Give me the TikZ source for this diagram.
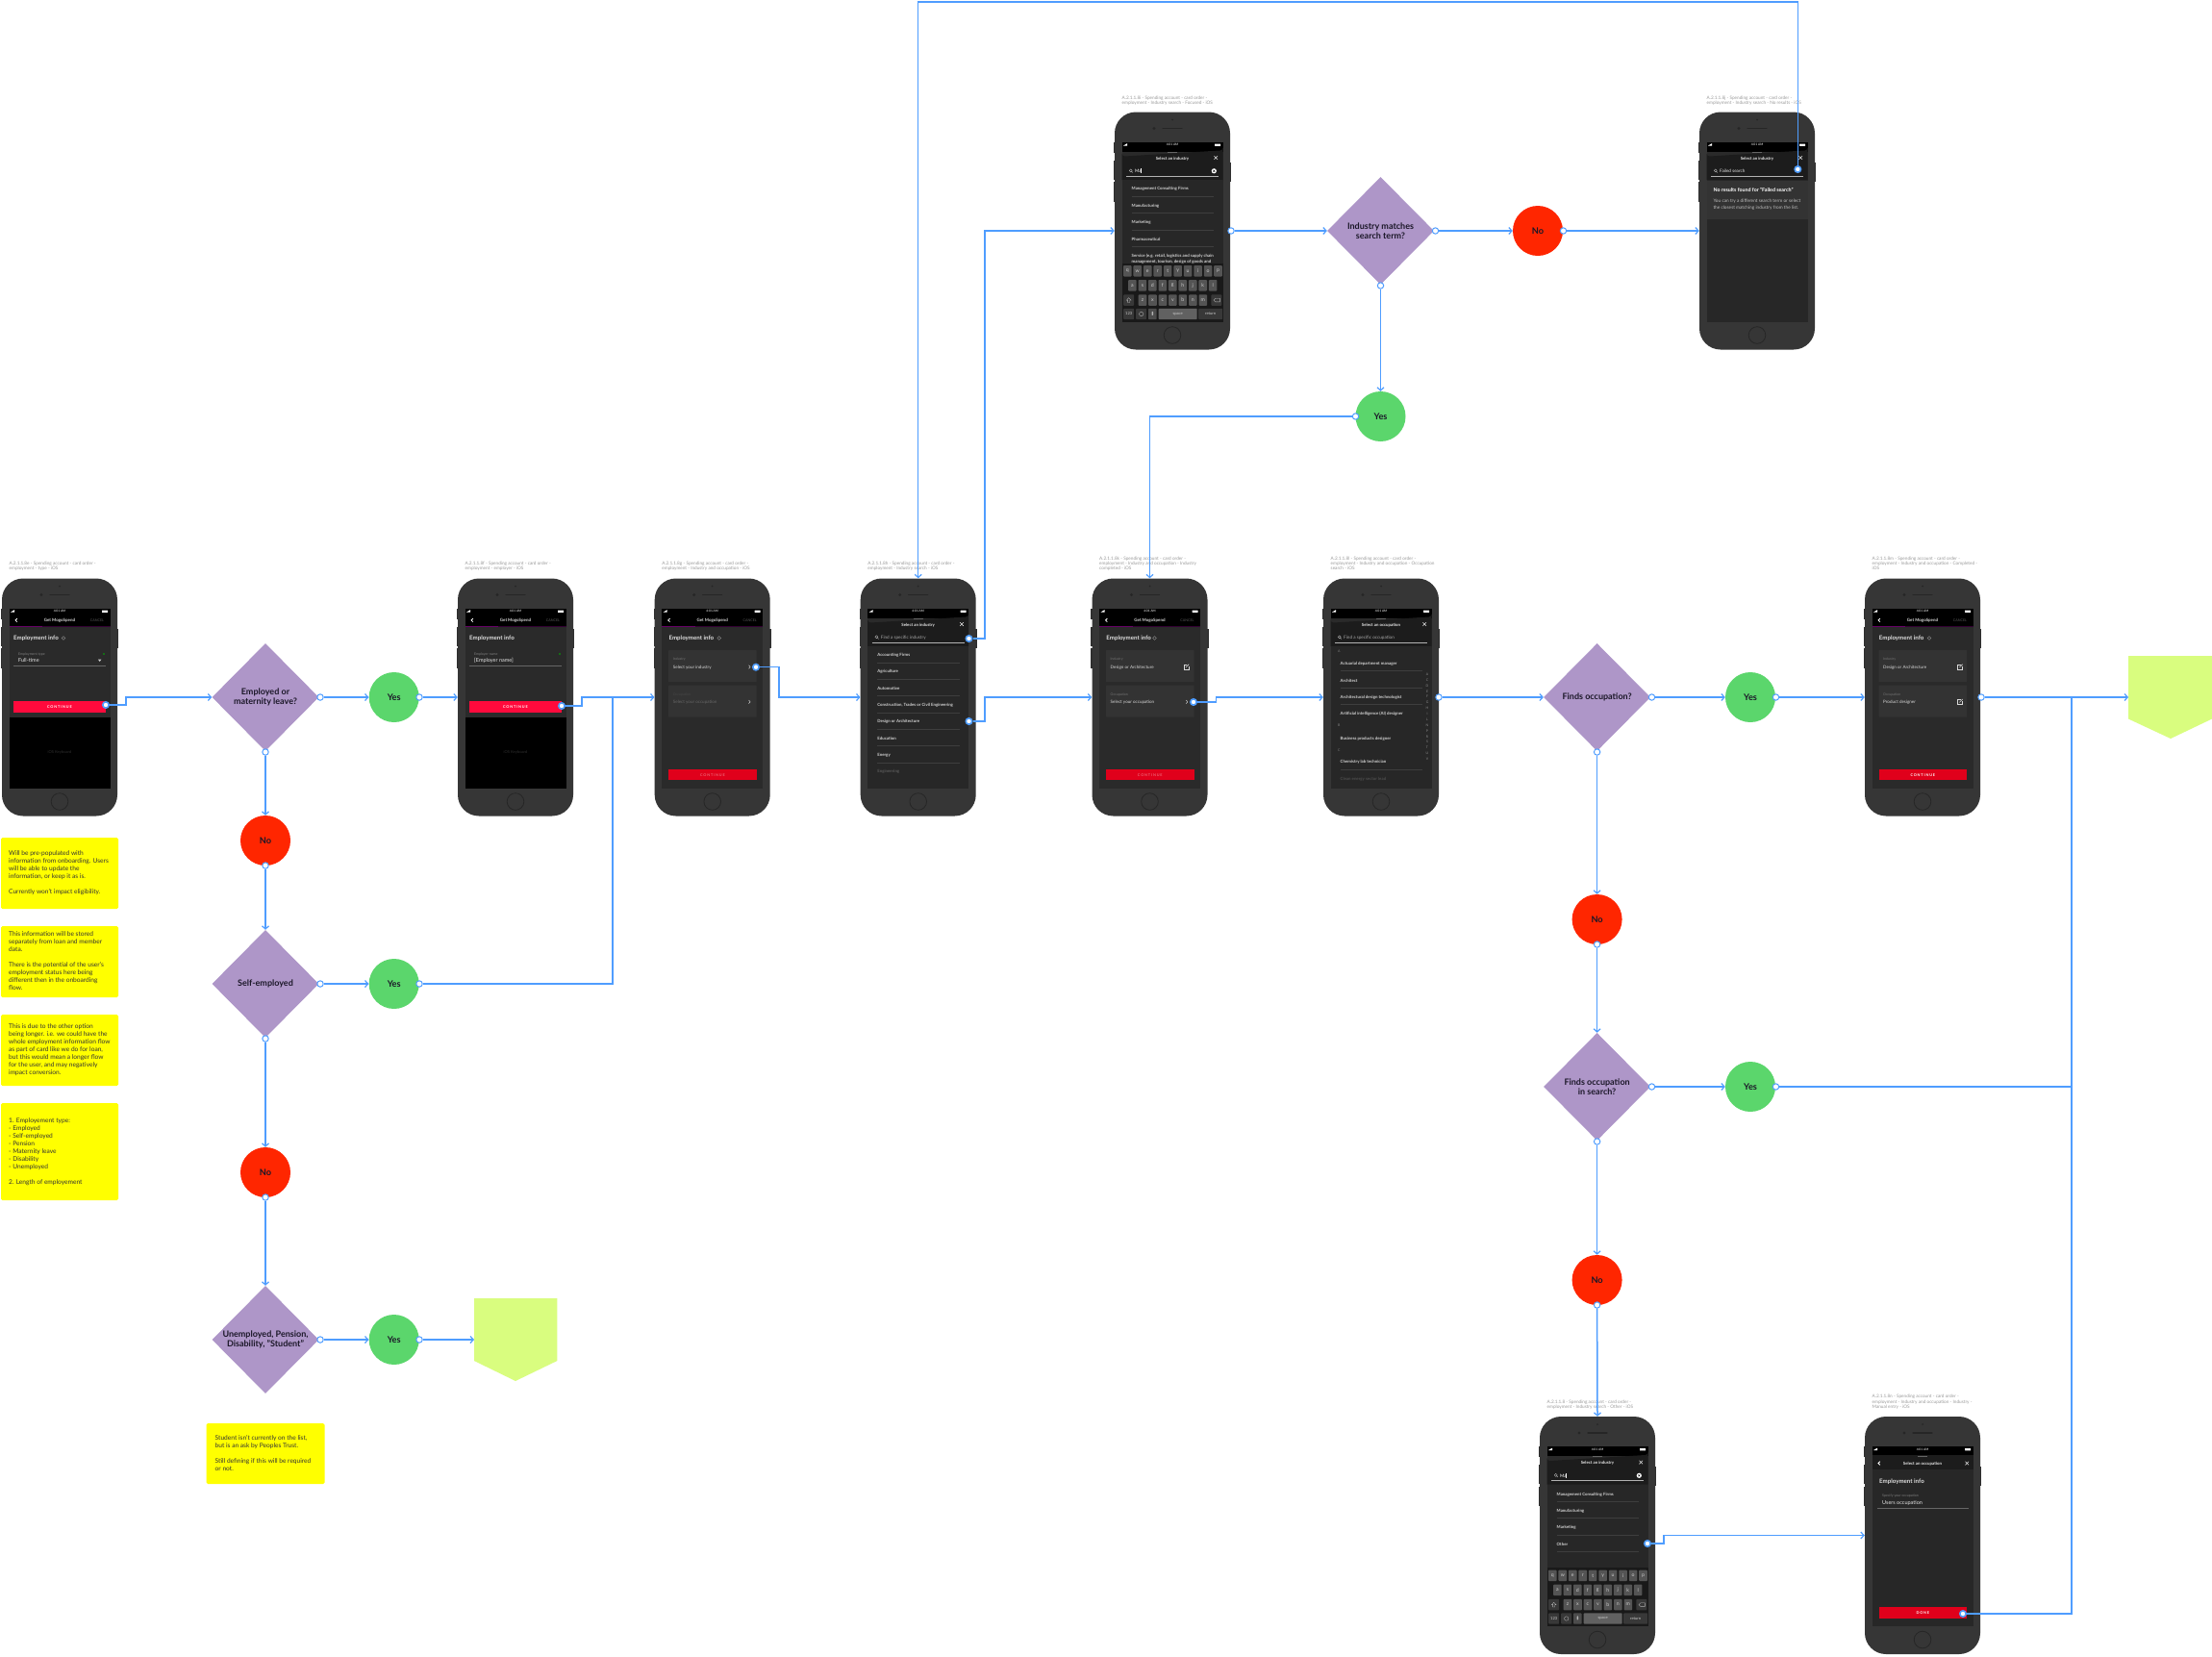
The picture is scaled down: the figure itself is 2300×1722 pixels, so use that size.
\documentclass[tikz,border=0pt]{standalone}
\usepackage{fontspec}
\setmainfont{Lato}
\newfontfamily\spacedfont[LetterSpace=22]{Lato}
\usetikzlibrary{shapes.geometric,arrows.meta}
\definecolor{flowblue}{HTML}{4F9DFF}
\definecolor{phonec}{HTML}{363636}
\definecolor{screenc}{HTML}{2A2A2A}
\definecolor{sheethd}{HTML}{1C1C1C}
\definecolor{sheetc}{HTML}{272727}
\definecolor{cardc}{HTML}{333333}
\definecolor{purplec}{HTML}{AE96C8}
\definecolor{greenc}{HTML}{5BD66C}
\definecolor{redc}{HTML}{FF2600}
\definecolor{limec}{HTML}{D9FD7F}
\definecolor{stickyc}{HTML}{FFFF00}
\definecolor{capc}{HTML}{9A9A9A}
\definecolor{btnc}{HTML}{E0001B}
\definecolor{btnb}{HTML}{FF0A3C}
\definecolor{inkc}{HTML}{1B1728}
\definecolor{sepc}{HTML}{3E3E3E}
\newcounter{tn}
\tikzset{
  x=1pt,y=-1pt,
  sz/.style={font=\fontsize{\fpeval{#1*1.08}}{\fpeval{#1*1.08}}\selectfont},
  bsz/.style={font=\bfseries\fontsize{\fpeval{#1*1.06}}{\fpeval{#1*1.06}}\selectfont},
  lt/.style={anchor=west,inner sep=0pt},
  ct/.style={anchor=center,inner sep=0pt},
  phonebody/.style={rectangle,rounded corners=22pt,fill=phonec,minimum width=120pt,minimum height=247pt,inner sep=0pt},
  caption/.style={anchor=north west,inner sep=0pt,align=left,text=capc,font=\fontsize{4.7}{5.3}\selectfont},
  decision/.style={diamond,aspect=1,fill=purplec,minimum width=111pt,minimum height=112pt,inner sep=0pt,align=center,text=inkc,font=\bfseries\fontsize{9}{10.4}\selectfont},
  yesnode/.style={circle,fill=greenc,minimum size=52pt,inner sep=0pt,text=inkc,font=\bfseries\fontsize{9.2}{10}\selectfont},
  nonode/.style={circle,fill=redc,minimum size=52pt,inner sep=0pt,text=inkc,font=\bfseries\fontsize{9.2}{10}\selectfont},
  sticky/.style={fill=stickyc,rounded corners=1.5pt},
  notetext/.style={anchor=north west,inner sep=0pt,align=left,text=black!80,font=\fontsize{6.6}{8}\selectfont},
  flow/.style={draw=flowblue,line width=1.5pt,-{Straight Barb[length=3.2pt,width=7pt,line width=1.2pt]}},
  flowjoin/.style={draw=flowblue,line width=1.5pt},
  handle/.style={circle,draw=flowblue,fill=white,line width=1pt,minimum size=6.4pt,inner sep=0pt},
  phandle/.style={circle,draw=flowblue,fill=white,line width=1.6pt,minimum size=6.4pt,inner sep=0pt},
}
\newcommand\T[4]{\stepcounter{tn}\node[#3,name=t\arabic{tn}] at (#1,#2) {#4};}
\newcommand\statusbar{%
  \fill[black] (7.5,31) rectangle (112.5,41);
  \T{60}{34}{ct,sz=3,text=white}{4:01 AM}
  \fill[white] (9,35) -- (13,35) -- (13,32.6) -- cycle;
  \fill[white,rounded corners=.4pt] (104,33) rectangle (110,35.4);
}
\newcommand\navbar{%
  \statusbar
  \fill[black] (7.5,41) rectangle (112.5,50);
  \fill[violet!40!black] (7.5,49.6) rectangle (112.5,50.6);
  \fill[violet!80!black] (7.5,49.6) rectangle (42,50.6);
  \draw[white,line width=.8pt] (15.8,41.7) -- (14,43.4) -- (15.8,45.1);
  \T{60}{43.6}{ct,bsz=4.2,text=white!85!black}{Get MogoSpend}
  \T{99}{43.6}{ct,sz=3.4,text=white!35!black}{CANCEL}
}
\newcommand\infoicon[2]{\draw[white!60!black,line width=.3pt] (#1,#2) circle (1.9);}
\newcommand\emptitle[1]{\T{#1}{62}{lt,bsz=5.8,text=white!88!black}{Employment info}}
\newcommand\chev[2]{\draw[white!80!black,line width=.5pt] (#1-.8,#2-1.8) -- (#1+.8,#2) -- (#1-.8,#2+1.8);}
\newcommand\editicon[2]{\draw[white!85!black,line width=.4pt] (#1+.8,#2-2.2) -- (#1-2.4,#2-2.2) -- (#1-2.4,#2+2.4) -- (#1+2.2,#2+2.4) -- (#1+2.2,#2-.8);\draw[white!85!black,line width=.6pt] (#1-.6,#2+.6) -- (#1+2.6,#2-2.8);}
\newcommand\inputfield[3]{% label, value, extra
  \T{17}{78.5}{lt,sz=3.3,text=white!50!black}{#1}
  \T{17}{85.3}{lt,sz=5.1,text=white!90!black}{#2}
  \fill[green!70!black] (106,78.5) circle (.8);
  \draw[white!40!black,line width=.6pt] (12,91) -- (108,91);
  #3
  \fill[btnb] (12,127) rectangle (108,139);
  \T{60}{133.3}{ct,font=\spacedfont\bfseries\fontsize{3.8}{4}\selectfont,text=white}{CONTINUE}
  \fill[black] (7.5,144) rectangle (112.5,218);
  \T{60}{181}{ct,sz=3.8,text=white!18!black}{iOS Keyboard}
}
\newcommand\mcard[5]{% y, label, value, label colour, value colour
  \fill[cardc,rounded corners=.5pt] (14.5,#1) rectangle (106,#1+33);
  \T{19}{#1+9.5}{lt,sz=3.3,text=#4}{#2}
  \T{19}{#1+18.2}{lt,sz=4.2,text=#5}{#3}
}
\newcommand\redbtn[2]{%
  \fill[btnc] (14.5,198) rectangle (106,209.7);
  \T{60.3}{204.2}{ct,font=\spacedfont\bfseries\fontsize{3.8}{4}\selectfont,text=#1}{#2}
}
\newcommand\sheet[1]{%
  \statusbar
  \fill[sheethd] (7.5,43) arc[start angle=180,end angle=270,radius=3pt] -- (109.5,40) arc[start angle=270,end angle=360,radius=3pt] -- (112.5,70.7) -- (7.5,70.7) -- cycle;
  \fill[sheetc] (7.5,70.7) rectangle (112.5,218);
  \fill[white!40!black] (55,41) rectangle (65,42);
  \T{60}{48.4}{ct,bsz=4.1,text=white!90!black}{#1}
  \draw[white!90!black,line width=.6pt] (103.5,45.7) -- (107,49.3) (107,45.7) -- (103.5,49.3);
}
\newcommand\searchbar[2]{% text, colour
  \draw[white!75!black,line width=.35pt] (16.7,60.8) circle (1.5) (17.8,61.9) -- (18.9,63);
  \T{21}{61.6}{lt,sz=4.3,text=#2}{#1}
  \draw[white!70!black,line width=.6pt] (12,66.3) -- (108,66.3);
}
\newcommand\listitem[2]{\T{17.5}{#1+.8}{lt,bsz=4.1,text=white!82!black}{#2}}
\newcommand\listsep[1]{\draw[sepc,line width=.5pt] (17.5,#1) -- (103,#1);}
\newcommand\clearbtn{\fill[white] (103.3,61.3) circle (2.6); \draw[black,line width=.4pt] (102.4,60.4) -- (104.2,62.2) (104.2,60.4) -- (102.4,62.2);}
\newcommand\KK[4]{%
  \fill[white!33!black,rounded corners=.8pt] (#1-#3/2,#2-5.7) rectangle (#1+#3/2,#2+5.7);
  \T{#1}{#2}{ct,sz=4.8,text=white!80!black}{#4}
}
\newcommand\DK[5]{%
  \fill[#5,rounded corners=.8pt] (#1-#3/2,#2-5.7) rectangle (#1+#3/2,#2+5.7);
  \T{#1}{#2}{ct,sz=3.8,text=white!80!black}{#4}
}
\newcommand\keyboard{%
  \fill[black!90!white] (7.5,157) rectangle (112.5,218);
  \foreach \ltr [count=\kn from 0] in {q,w,e,r,t,y,u,i,o,p}{\pgfmathsetmacro\kx{13.3+10.47*\kn}\KK{\kx}{165.3}{8.6}{\ltr}}
  \foreach \ltr [count=\kn from 0] in {a,s,d,f,g,h,j,k,l}{\pgfmathsetmacro\kx{18.4+10.47*\kn}\KK{\kx}{180.3}{8.6}{\ltr}}
  \foreach \ltr [count=\kn from 0] in {z,x,c,v,b,n,m}{\pgfmathsetmacro\kx{29+10.47*\kn}\KK{\kx}{195.6}{8.6}{\ltr}}
  \DK{14.7}{195.6}{11}{}{white!22!black}
  \draw[white!70!black,line width=.35pt] (14.7,193.2) -- (17,195.6) -- (15.8,195.6) -- (15.8,198) -- (13.6,198) -- (13.6,195.6) -- (12.4,195.6) -- cycle;
  \DK{105.8}{195.6}{11}{}{white!22!black}
  \draw[white!70!black,line width=.35pt] (103,195.6) -- (104.8,193.8) -- (109.4,193.8) -- (109.4,197.4) -- (104.8,197.4) -- cycle;
  \DK{14.7}{210}{11}{123}{white!22!black}
  \DK{27.7}{210}{11}{}{white!22!black}
  \draw[white!70!black,line width=.35pt] (27.7,210) circle (2.2);
  \DK{39.3}{210}{8.6}{}{white!30!black}
  \fill[white!70!black,rounded corners=.6pt] (38.5,207.4) rectangle (40.1,211.4);
  \DK{65.7}{210}{40}{space}{white!38!black}
  \DK{99.7}{210}{25}{return}{white!22!black}
}
% #1 name, #2 x, #3 y, #4 caption node y offset, #5 caption, #6 contents
\newcommand\phone[6]{%
  \begin{scope}[shift={(#2,#3)}]
    \foreach \by/\bh in {31/42,50/70,72.5/93}{\fill[phonec!85!black] (-1.2,\by) rectangle (0.5,\bh);}
    \fill[phonec!85!black] (119.5,52) rectangle (121.2,72);
    \node[phonebody] (#1) at (60,123.5) {};
    \fill[black!85] (60,8) circle (1);
    \fill[black!85] (41,17) circle (1.7);
    \draw[black!85,line width=1.1pt,line cap=round] (50,17) -- (70,17);
    \draw[black!85,line width=.8pt] (60,232) circle (8.8);
    \fill[screenc] (7.5,31) rectangle (112.5,218);
    \stepcounter{tn}\node[caption,name=cap\arabic{tn}] at (7.5,#4) {#5};
    #6
  \end{scope}
}
\begin{document}
\begin{tikzpicture}
\useasboundingbox (0,0) rectangle (2300,1722);
\fill[white] (0,0) rectangle (2300,1722);

% ---------- phones ----------
\phone{pa}{2}{601.5}{-17.5}{A.2.1.1.8e - Spending account - card order -\\employment - type - iOS}{%
  \navbar\emptitle{12}\infoicon{64}{62}
  \inputfield{Employment type}{Full-time}{\fill[white!80!black] (100,84.2) -- (103.4,84.2) -- (101.7,86.4) -- cycle;}
}
\phone{pb}{476}{601.5}{-17.5}{A.2.1.1.8f - Spending account - card order -\\employment - employer - iOS}{%
  \navbar\emptitle{12}
  \inputfield{Employer name}{[Employer name]}{}
}
\phone{pc}{680.7}{601.5}{-17.5}{A.2.1.1.8g - Spending account - card order -\\employment - Industry and occupation - iOS}{%
  \navbar\emptitle{14.7}\infoicon{67}{62}
  \mcard{74.7}{Industry}{Select your industry}{white!45!black}{white!85!black}
  \mcard{111}{Occupation}{Select your occupation}{white!28!black}{white!40!black}
  \chev{98.6}{92}
  \chev{98.6}{128.3}
  \redbtn{white!40!btnc}{CONTINUE}
}
\phone{pd}{894.7}{601.5}{-17.5}{A.2.1.1.8h - Spending account - card order -\\employment - Industry search - iOS}{%
  \sheet{Select an industry}
  \searchbar{Find a specific industry}{white!65!black}
  \listitem{79}{Accounting Firms}\listsep{87.3}
  \listitem{96.3}{Agriculture}\listsep{104.7}
  \listitem{113.7}{Automotive}\listsep{122}
  \listitem{131}{Construction, Trades or Civil Engineering}\listsep{139.3}
  \listitem{148.3}{Design or Architecture}\listsep{156.7}
  \listitem{165.6}{Education}\listsep{174}
  \listitem{183}{Energy}\listsep{191.3}
  \T{17.5}{201}{lt,bsz=4.1,text=white!35!black}{Engineering}
}
\phone{pe}{1135.5}{601.5}{-22.8}{A.2.1.1.8k - Spending account - card order -\\employment - Industry and occupation - Industry\\completed - iOS}{%
  \navbar\emptitle{14.7}\infoicon{65}{62}
  \mcard{74.7}{Industry}{Design or Architecture}{white!45!black}{white!85!black}
  \mcard{111}{Occupation}{Select your occupation}{white!45!black}{white!85!black}
  \editicon{98}{92}
  \chev{98.6}{128.3}
  \redbtn{white!40!btnc}{CONTINUE}
}
\phone{pf}{1376}{601.5}{-22.8}{A.2.1.1.8l - Spending account - card order -\\employment - Industry and occupation - Occupation\\search - iOS}{%
  \sheet{Select an occupation}
  \searchbar{Find a specific occupation}{white!65!black}
  \T{15}{75.3}{lt,sz=3.3,text=white!50!black}{A}
  \listitem{88}{Actuarial department manager}\listsep{96}
  \listitem{105.3}{Architect}\listsep{113.7}
  \listitem{122.7}{Architectural design technologist}\listsep{131}
  \listitem{140}{Artificial intelligence (AI) designer}
  \T{15}{153}{lt,sz=3.3,text=white!50!black}{B}
  \listitem{165.7}{Business products designer}
  \T{15}{178.7}{lt,sz=3.3,text=white!50!black}{C}
  \listitem{190.3}{Chemistry lab technician}\listsep{199}
  \T{17.5}{208.8}{lt,bsz=4.1,text=white!30!black}{Clean energy sector lead}
  \foreach \ltr [count=\kn from 0] in {A,C,D,E,F,G,H,I,L,N,P,R,S,T,U,V}{\pgfmathsetmacro\ky{99.7+5.87*\kn}\T{108}{\ky}{ct,sz=3.2,text=white!55!black}{\ltr}}
}
\phone{pg}{1939}{601.5}{-22.8}{A.2.1.1.8m - Spending account - card order -\\employment - Industry and occupation - Completed -\\iOS}{%
  \navbar\emptitle{14.7}\infoicon{67}{62}
  \mcard{74.7}{Industry}{Design or Architecture}{white!45!black}{white!85!black}
  \mcard{111}{Occupation}{Product designer}{white!45!black}{white!85!black}
  \editicon{99}{92}
  \editicon{99}{128.3}
  \redbtn{white}{CONTINUE}
}
\phone{ph}{1159}{116.5}{-17}{A.2.1.1.8i - Spending account - card order -\\employment - Industry search - Focused - iOS}{%
  \sheet{Select an industry}
  \searchbar{Ma}{white}
  \draw[white,line width=.3pt] (27.6,58.8) -- (27.6,63.6);
  \clearbtn
  \listitem{79.3}{Management Consulting Firms}\listsep{88}
  \listitem{96.7}{Manufacturing}\listsep{105}
  \listitem{114}{Marketing}\listsep{122.5}
  \listitem{131.3}{Pharmaceutical}\listsep{140}
  \listitem{148.7}{Service (e.g. retail, logistics and supply chain}
  \listitem{155.3}{management, tourism, design of goods and}
  \keyboard
}
\phone{pi}{1767}{116.5}{-17}{A.2.1.1.8j - Spending account - card order -\\employment - Industry search - No results - iOS}{%
  \sheet{Select an industry}
  \searchbar{Failed search}{white!90!black}
  \fill[cardc] (7.5,71) rectangle (112.5,111.3);
  \T{14.3}{81}{lt,bsz=5,text=white}{No results found for "Failed search"}
  \T{14.3}{92.3}{lt,sz=4.4,text=white!75!black}{You can try a different search term or select}
  \T{14.3}{99.2}{lt,sz=4.4,text=white!75!black}{the closest matching industry from the list.}
}
\phone{pj}{1601}{1473}{-17}{A.2.1.1.8 - Spending account - card order -\\employment - Industry search - Other - iOS}{%
  \sheet{Select an industry}
  \searchbar{Ma}{white}
  \draw[white,line width=.3pt] (27.6,58.8) -- (27.6,63.6);
  \clearbtn
  \listitem{80}{Management Consulting Firms}\listsep{88.5}
  \listitem{97.3}{Manufacturing}\listsep{105.7}
  \listitem{114.7}{Marketing}\listsep{123}
  \listitem{132}{Other}\listsep{140.5}
  \keyboard
}
\phone{pk}{1939}{1473}{-22.8}{A.2.1.1.8n - Spending account - card order -\\employment - Industry and occupation - Industry -\\Manual entry - iOS}{%
  \statusbar
  \fill[sheethd] (7.5,40) rectangle (112.5,54.5);
  \fill[sheetc] (7.5,54.5) rectangle (112.5,218);
  \fill[white!40!black] (55,41) rectangle (65,42);
  \draw[white,line width=.8pt] (15.8,46.7) -- (14,48.5) -- (15.8,50.3);
  \T{60}{48.9}{ct,bsz=4.1,text=white!90!black}{Select an occupation}
  \draw[white!90!black,line width=.6pt] (104.5,46.7) -- (108,50.3) (108,46.7) -- (104.5,50.3);
  \T{15}{67.5}{lt,bsz=5.8,text=white!88!black}{Employment info}
  \T{18}{82.4}{lt,sz=3.3,text=white!50!black}{Specify your occupation}
  \T{18}{89.8}{lt,sz=5.1,text=white!90!black}{Users occupation}
  \draw[white!40!black,line width=.6pt] (13,95) -- (108,95);
  \redbtn{white}{DONE}
}

% ---------- decisions and answers ----------
\node[decision] (d1) at (276,725) {Employed or\\maternity leave?};
\node[decision] (d2) at (276,1023) {Self-employed};
\node[decision] (d3) at (276,1393) {Unemployed, Pension,\\Disability, "Student"};
\node[decision] (d4) at (1435.5,240) {Industry matches\\search term?};
\node[decision] (d5) at (1660.6,725) {Finds occupation?};
\node[decision] (d6) at (1660.6,1130) {Finds occupation\\in search?};
\node[yesnode] (y1) at (409.7,725) {Yes};
\node[yesnode] (y2) at (409.7,1023) {Yes};
\node[yesnode] (y3) at (409.7,1393) {Yes};
\node[yesnode] (y4) at (1435.5,433) {Yes};
\node[yesnode] (y5) at (1820,725) {Yes};
\node[yesnode] (y6) at (1820,1130) {Yes};
\node[nonode] (n1) at (276,874) {No};
\node[nonode] (n2) at (276,1219) {No};
\node[nonode] (n3) at (1599,240) {No};
\node[nonode] (n4) at (1660.6,956) {No};
\node[nonode] (n5) at (1660.6,1331) {No};

% ---------- end markers ----------
\fill[limec] (2213,682) -- (2300,682) -- (2300,747.5) -- (2257,768) -- (2213,747.5) -- cycle;
\coordinate (g1) at (2213,725);
\fill[limec] (493,1350) -- (579.3,1350) -- (579.3,1415) -- (536,1436) -- (493,1415) -- cycle;
\coordinate (g2) at (493,1393);

% ---------- notes ----------
\fill[sticky] (1,871) rectangle (123,945);
\node[notetext] (note1) at (9,884.3) {Will be pre-populated with\\information from onboarding. Users\\will be able to update the\\information, or keep it as is.\\[8pt]Currently won't impact eligibility.};
\fill[sticky] (1,963) rectangle (123,1037);
\node[notetext] (note2) at (9,968.3) {This information will be stored\\separately from loan and member\\data.\\[8pt]There is the potential of the user's\\employment status here being\\different then in the onboarding\\flow.};
\fill[sticky] (1,1055) rectangle (123,1129);
\node[notetext] (note3) at (9,1064.6) {This is due to the other option\\being longer. i.e. we could have the\\whole employment information flow\\as part of card like we do for loan,\\but this would mean a longer flow\\for the user, and may negatively\\impact conversion.};
\fill[sticky] (1,1147) rectangle (123,1248);
\node[notetext] (note4) at (9,1162) {1. Employement type:\\- Employed\\- Self-employed\\- Pension\\- Maternity leave\\- Disability\\- Unemployed\\[8pt]2. Length of employement};
\fill[sticky] (214.7,1480) rectangle (337.5,1543);
\node[notetext] (note5) at (223.5,1492) {Student isn't currently on the list,\\but is an ask by Peoples Trust.\\[8pt]Still defining if this will be required\\or not.};

% ---------- connector handles ----------
\node[phandle] (ha) at (110,733) {};
\node[handle] (hd1r) at (333,725) {};
\node[handle] (hy1) at (436,725) {};
\node[handle] (hd1b) at (276,782) {};
\node[handle] (hn1) at (276,900) {};
\node[handle] (hd2r) at (333,1023) {};
\node[handle] (hy2) at (436,1023) {};
\node[handle] (hd2b) at (276,1080) {};
\node[handle] (hn2) at (276,1245) {};
\node[handle] (hd3r) at (333,1393) {};
\node[handle] (hy3) at (436,1393) {};
\node[phandle] (hb) at (584,734) {};
\node[phandle] (hc) at (786,693.7) {};
\node[phandle] (hd1) at (1007.5,664) {};
\node[phandle] (hd2) at (1007.5,750) {};
\node[phandle] (he) at (1241,730) {};
\node[handle] (hf) at (1496,725) {};
\node[handle] (hd5r) at (1717.5,725) {};
\node[handle] (hy5) at (1846.5,725) {};
\node[handle] (hg) at (2060,725) {};
\node[handle] (hd5b) at (1660.6,782) {};
\node[handle] (hn4) at (1660.6,982) {};
\node[handle] (hd6r) at (1717.5,1130) {};
\node[handle] (hy6) at (1846.5,1130) {};
\node[handle] (hd6b) at (1660.6,1187) {};
\node[handle] (hn5) at (1660.6,1357) {};
\node[phandle] (hj) at (1713,1605) {};
\node[phandle] (hk) at (2041,1678) {};
\node[handle] (hh) at (1280,240) {};
\node[handle] (hd4r) at (1492.5,240) {};
\node[handle] (hn3) at (1625.5,240) {};
\node[handle] (hd4b) at (1435.5,297) {};
\node[handle] (hy4) at (1409.5,433) {};
\node[phandle] (hi) at (1869.3,176) {};

% ---------- bend and merge points ----------
\coordinate (b1) at (131,725);
\coordinate (m1) at (637,725);
\coordinate (b2) at (605,725);
\coordinate (b3) at (810,725);
\coordinate (b4) at (1024,240);
\coordinate (b5) at (1024,725);
\coordinate (b6) at (1264.5,725);
\coordinate (m2) at (2154,725);
\coordinate (b7) at (1730,1596.5);
\coordinate (tp) at (1400,2);

% ---------- connectors ----------
\draw[flow] (ha) -| (b1) -- (d1.west);
\draw[flow] (hd1r) -- (y1);
\draw[flow] (hy1) -- (pb);
\draw[flow] (hd1b) -- (n1);
\draw[flow] (hn1) -- (d2);
\draw[flow] (hd2r) -- (y2);
\draw[flowjoin] (hy2) -| (m1);
\draw[flow] (hd2b) -- (n2);
\draw[flow] (hn2) -- (d3);
\draw[flow] (hd3r) -- (y3);
\draw[flow] (hy3) -- (g2);
\draw[flow] (hb) -| (b2) -- (pc.west);
\draw[flow] (hc) -| (b3) -- (pd.west);
\draw[flow] (hd1) -| (b4) -- (ph.west);
\draw[flow] (hd2) -| (b5) -- (pe.west);
\draw[flow] (he) -| (b6) -- (pf.west);
\draw[flow] (hf) -- (d5);
\draw[flow] (hd5r) -- (y5);
\draw[flow] (hy5) -- (pg);
\draw[flow] (hg) -- (g1);
\draw[flow] (hd5b) -- (n4);
\draw[flow] (hn4) -- (d6);
\draw[flow] (hd6r) -- (y6);
\draw[flowjoin] (hy6) -| (m2);
\draw[flow] (hd6b) -- (n5);
\draw[flow] (hn5) -- (pj.north);
\draw[flow] (hj) -| (b7) -- (pk.west);
\draw[flowjoin] (hk) -| (m2);
\draw[flow] (hh) -- (d4);
\draw[flow] (hd4r) -- (n3);
\draw[flow] (hn3) -- (pi.west);
\draw[flow] (hd4b) -- (y4);
\draw[flow] (hy4) -| (pe.north);
\draw[flow] (hi) |- (tp) -| (pd.north);
\end{tikzpicture}
\end{document}
